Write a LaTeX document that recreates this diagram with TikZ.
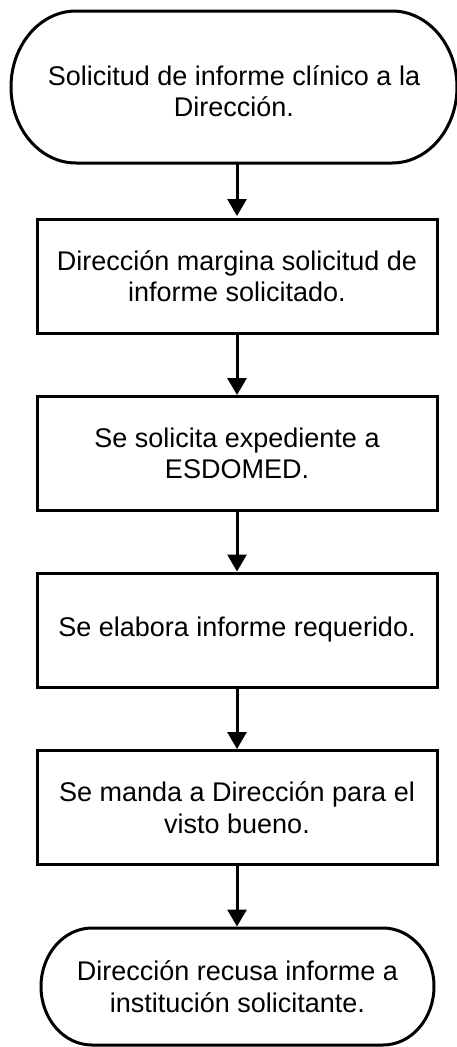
\documentclass[tikz,border=0pt]{standalone}
\usepackage{fontspec}
\setmainfont{Liberation Sans}
\usetikzlibrary{arrows.meta}
\begin{document}
\begin{tikzpicture}[x=1pt,y=-1pt,
  every node/.style={align=center,font=\fontsize{27}{31.5}\selectfont,inner sep=0pt},
  procbox/.style={draw,line width=3pt,minimum width=400pt,minimum height=114pt},
  termtext/.style={inner sep=0pt,outer sep=0pt},
  outline/.style={line width=3pt},
  arr/.style={line width=3pt,-{Triangle[width=19pt,length=17pt]}}]
\useasboundingbox (0,0) rectangle (457,1047);
% top terminal
\coordinate (t1nw) at (11,11);
\coordinate (t1se) at (457,163);
\node[termtext] (t1txt) at (234,91) {Solicitud de informe clínico a la\\Dirección.};
\draw[outline] (76,11) -- (392,11)
  arc[start angle=90,end angle=-90,x radius=65pt,y radius=76pt]
  -- (76,163)
  arc[start angle=270,end angle=90,x radius=65pt,y radius=76pt] -- cycle;
\coordinate (t1) at (237,163);
% process boxes
\node[procbox] (b2) at (237,276) {Dirección margina solicitud de\\informe solicitado.};
\node[procbox] (b3) at (237,453.5) {Se solicita expediente a\\ESDOMED.};
\node[procbox] (b4) at (237,630) {Se elabora informe requerido.};
\node[procbox] (b5) at (237,807.5) {Se manda a Dirección para el\\visto bueno.};
% bottom terminal
\node[termtext] (t2txt) at (237.5,986.5) {Dirección recusa informe a\\institución solicitante.};
\draw[outline] (92,928) -- (383,928)
  arc[start angle=90,end angle=-90,x radius=51pt,y radius=58.5pt]
  -- (92,1045)
  arc[start angle=270,end angle=90,x radius=51pt,y radius=58.5pt] -- cycle;
\coordinate (t2) at (237,928);
% connectors
\draw[arr] (t1) -- ([yshift=1.5pt]b2.north);
\draw[arr] (b2) -- (b3);
\draw[arr] (b3) -- (b4);
\draw[arr] (b4) -- (b5);
\draw[arr] (b5) -- ([yshift=1.5pt]t2);
\end{tikzpicture}
\end{document}
